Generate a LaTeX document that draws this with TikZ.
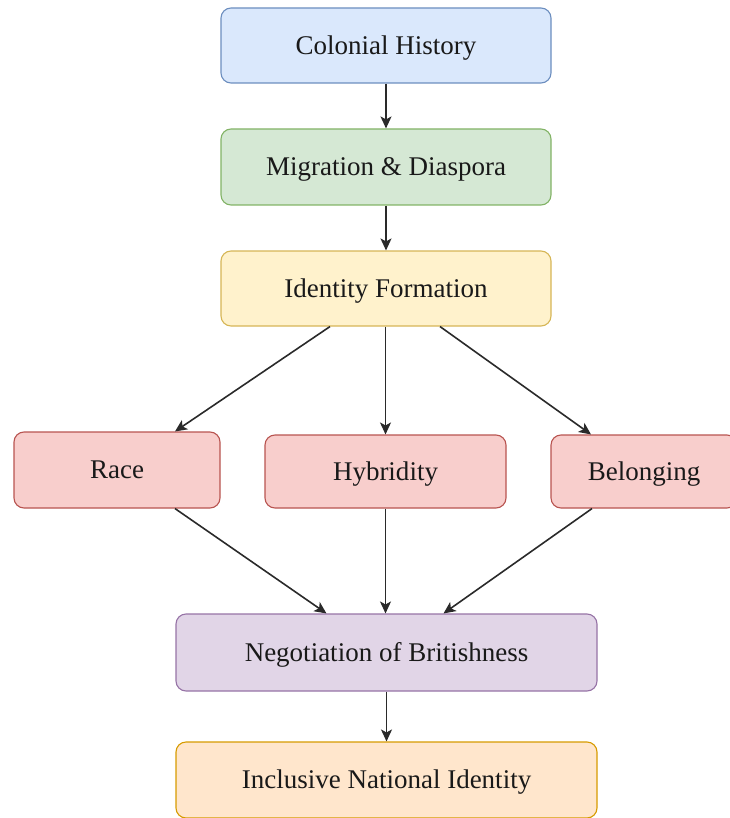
\documentclass[tikz,border=0pt]{standalone}
\usepackage{fontspec}
\setmainfont{Liberation Serif}
\usetikzlibrary{arrows.meta}
\definecolor{bluef}{HTML}{DAE8FC}\definecolor{blued}{HTML}{6C8EBF}
\definecolor{greenf}{HTML}{D5E8D4}\definecolor{greend}{HTML}{82B366}
\definecolor{yellowf}{HTML}{FFF2CC}\definecolor{yellowd}{HTML}{D6B656}
\definecolor{redf}{HTML}{F8CECC}\definecolor{redd}{HTML}{B85450}
\definecolor{purplef}{HTML}{E1D5E7}\definecolor{purpled}{HTML}{9673A6}
\definecolor{orangef}{HTML}{FFE6CC}\definecolor{oranged}{HTML}{D79B00}
\definecolor{arrowc}{HTML}{2A2A2A}
\tikzset{
  box/.style={draw, rounded corners=10pt, line width=1.1pt, inner sep=0pt,
    text height=17.5pt, text depth=0pt,
    font=\fontsize{27}{32}\selectfont, text=black!90},
  conn/.style={draw=arrowc, line width=1.6pt, -{Stealth[length=12pt,width=11pt,inset=3pt]}}
}
\begin{document}
\begin{tikzpicture}[x=1pt,y=-1pt]
\useasboundingbox (0,0) rectangle (729,818);
\node[box, fill=bluef, draw=blued, minimum width=330pt, minimum height=75pt] (colonial) at (386,45.5) {Colonial History};
\node[box, fill=greenf, draw=greend, minimum width=330pt, minimum height=76pt] (migration) at (386,167) {Migration \& Diaspora};
\node[box, fill=yellowf, draw=yellowd, minimum width=330pt, minimum height=75pt] (identity) at (386,288.5) {Identity Formation};
\node[box, fill=redf, draw=redd, minimum width=206pt, minimum height=76pt] (race) at (117,470) {Race};
\node[box, fill=redf, draw=redd, minimum width=241pt, minimum height=73pt] (hybridity) at (385.5,471.5) {Hybridity};
\node[box, fill=redf, draw=redd, minimum width=186pt, minimum height=73pt] (belonging) at (644,471.5) {Belonging};
\node[box, fill=purplef, draw=purpled, minimum width=421pt, minimum height=77pt] (negotiation) at (386.5,652.5) {Negotiation of Britishness};
\node[box, fill=orangef, draw=oranged, minimum width=421pt, minimum height=76pt] (inclusive) at (386.5,780) {Inclusive National Identity};

\draw[conn] (colonial.south) -- (migration.north);
\draw[conn] (migration.south) -- (identity.north);
\draw[conn] ([xshift=-56pt]identity.south) -- ([xshift=58pt]race.north);
\draw[conn] ([xshift=-0.5pt]identity.south) -- (hybridity.north);
\draw[conn] ([xshift=54pt]identity.south) -- ([xshift=-53pt]belonging.north);
\draw[conn] ([xshift=58pt]race.south) -- ([xshift=-60pt]negotiation.north);
\draw[conn] (hybridity.south) -- ([xshift=-1pt]negotiation.north);
\draw[conn] ([xshift=-52pt]belonging.south) -- ([xshift=57pt]negotiation.north);
\draw[conn] (negotiation.south) -- (inclusive.north);
\end{tikzpicture}
\end{document}
